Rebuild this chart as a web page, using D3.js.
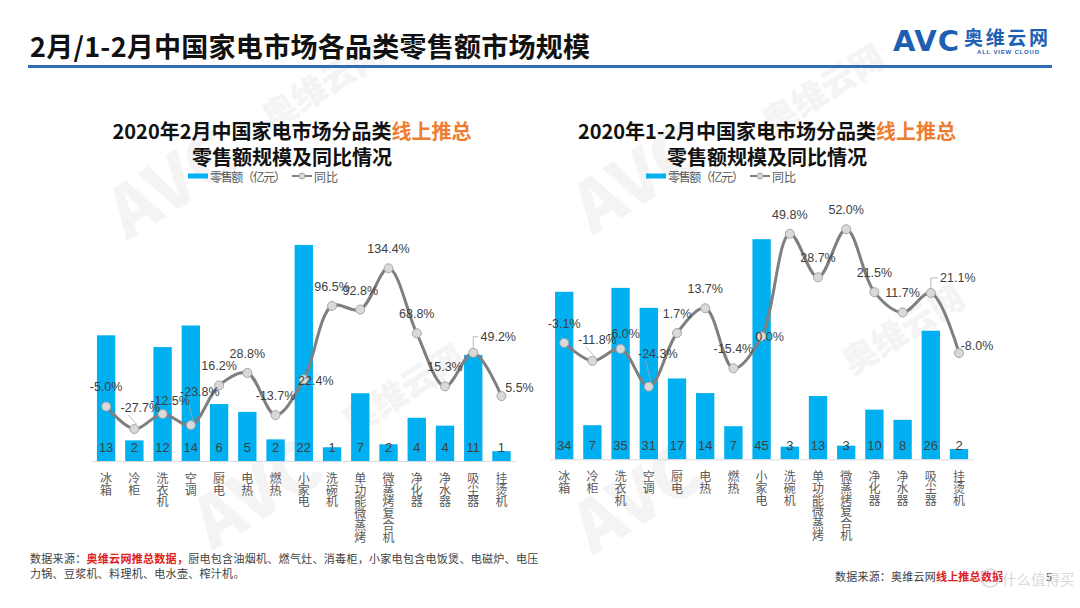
<!DOCTYPE html>
<html><head><meta charset="utf-8">
<script src="https://cdn.jsdelivr.net/npm/d3@7"></script>
<style>
body{margin:0;background:#fff;}
svg{display:block;font-family:"Noto Sans CJK SC","Microsoft YaHei",sans-serif;}
</style></head>
<body>
<svg id="c" width="1080" height="608"></svg>
<script>
// ---------- data ----------
const categories = ["冰箱","冷柜","洗衣机","空调","厨电","电热","燃热","小家电","洗碗机","单功能微蒸烤","微蒸烤复合机","净化器","净水器","吸尘器","挂烫机"];
const febSales   = [12.8, 2.1, 11.6, 13.8, 5.8, 5.0, 2.2, 22.0, 1.4, 6.9, 1.7, 4.4, 3.6, 10.8, 1.0];
const febYoY     = [-5.0, -27.7, -12.5, -23.8, 16.2, 28.8, -13.7, 22.4, 96.5, 92.8, 134.4, 68.8, 15.3, 49.2, 5.5];
const janFebSales = [34.4, 7.0, 35.2, 31.1, 16.6, 13.6, 6.8, 45.2, 2.6, 13.0, 2.8, 10.2, 8.1, 26.4, 2.1];
const janFebYoY   = [-3.1, -11.8, -6.0, -24.3, 1.7, 13.7, -15.4, 0.0, 49.8, 28.7, 52.0, 21.5, 11.7, 21.1, -8.0];
const legendLabels = ["零售额（亿元）", "同比"];

// ---------- layout / style (not data) ----------
const BLUE = "#00b0f0", LINE = "#7f7f7f", TXT = "#404040";
const svg = d3.select("#c");
const pct = v => (v < 0 ? "-" : "") + Math.abs(v).toFixed(1) + "%";

// faint background watermarks
const wm = [
  {x:330,y:95,t:"奥维云网",s:34},{x:185,y:205,t:"AVC",s:70},{x:410,y:400,t:"奥维云网",s:34},
  {x:830,y:100,t:"奥维云网",s:34},{x:650,y:200,t:"AVC",s:70},{x:910,y:340,t:"奥维云网",s:34},
  {x:270,y:515,t:"AVC",s:70},{x:650,y:520,t:"AVC",s:70}
];
svg.append("g").selectAll("text").data(wm).join("text")
  .attr("transform",d=>`translate(${d.x},${d.y}) rotate(-32)`)
  .attr("text-anchor","middle").attr("font-size",d=>d.s).attr("font-weight",900)
  .attr("fill","#f4f4f4").text(d=>d.t);

// header
svg.append("text").attr("x",30).attr("y",45).attr("dominant-baseline","central")
  .attr("font-size",27).attr("font-weight",700).attr("fill","#111").attr("textLength",560)
  .text("2月/1-2月中国家电市场各品类零售额市场规模");
svg.append("line").attr("x1",28).attr("x2",1052).attr("y1",66.5).attr("y2",66.5)
  .attr("stroke","#2e6eb5").attr("stroke-width",3);
svg.append("text").attr("x",893).attr("y",51).attr("font-family","DejaVu Sans, Liberation Sans")
  .attr("font-size",29).attr("font-weight",700).attr("fill","#1d5fb3").attr("textLength",66).text("AVC");
svg.append("text").attr("x",964).attr("y",36).attr("dominant-baseline","central")
  .attr("font-size",19).attr("font-weight",700).attr("fill","#1d5fb3").attr("textLength",84).text("奥维云网");
svg.append("text").attr("x",977).attr("y",52).attr("dominant-baseline","central")
  .attr("font-family","Liberation Sans, Arial").attr("font-size",6).attr("font-weight",700)
  .attr("fill","#1d5fb3").attr("textLength",62).text("ALL VIEW CLOUD");

function drawChart(cfg){
  const g = svg.append("g");
  // titles
  const t1 = g.append("text").attr("x",cfg.cx).attr("y",130).attr("text-anchor","middle")
    .attr("dominant-baseline","central").attr("font-size",20).attr("font-weight",700).attr("fill","#111");
  t1.append("tspan").text(cfg.title1a);
  t1.append("tspan").attr("fill","#ed7d31").text("线上推总");
  g.append("text").attr("x",cfg.cx).attr("y",156).attr("text-anchor","middle")
    .attr("dominant-baseline","central").attr("font-size",20).attr("font-weight",700).attr("fill","#111")
    .text("零售额规模及同比情况");
  // legend
  const lg = g.append("g").attr("transform",`translate(${cfg.legendX},176)`);
  lg.append("rect").attr("x",0).attr("y",-2.5).attr("width",20).attr("height",5).attr("fill",BLUE);
  lg.append("text").attr("x",22).attr("y",0).attr("dominant-baseline","central").attr("font-size",12)
    .attr("fill","#595959").attr("textLength",76).text(legendLabels[0]);
  lg.append("line").attr("x1",104).attr("x2",124).attr("y1",0).attr("y2",0).attr("stroke",LINE).attr("stroke-width",2);
  lg.append("circle").attr("cx",114).attr("cy",0).attr("r",3).attr("fill","#d9d9d9").attr("stroke","#a6a6a6");
  lg.append("text").attr("x",126).attr("y",0).attr("dominant-baseline","central").attr("font-size",12)
    .attr("fill","#595959").text(legendLabels[1]);

  const x = d3.scaleBand().domain(categories).range(cfg.xRange).paddingInner(0.35).paddingOuter(0.175);
  const y = d3.scaleLinear().domain(cfg.barDomain).range([cfg.base, cfg.top]);
  const y2 = d3.scaleLinear().domain(cfg.lineDomain).range([cfg.base, cfg.top]);

  // bars
  g.append("g").selectAll("rect").data(cfg.sales).join("rect")
    .attr("x",(d,i)=>x(categories[i])).attr("width",x.bandwidth())
    .attr("y",d=>y(d)).attr("height",d=>y(0)-y(d)).attr("fill",BLUE);

  // x axis
  const ax = g.append("g").attr("transform",`translate(0,${cfg.base})`)
    .call(d3.axisBottom(x).tickSize(0).tickPadding(0));
  ax.select(".domain").attr("stroke","#d9d9d9");
  ax.selectAll(".tick text").each(function(d){
    const t = d3.select(this).text(null).attr("y",0).attr("dy",null).attr("font-size",12)
      .attr("fill","#595959").attr("font-family","Noto Sans CJK SC").attr("dominant-baseline","central");
    [...d].forEach((ch,k)=>t.append("tspan").attr("x",0).attr("y",16 + k*11.7).text(ch));
  });

  // bar value labels
  g.append("g").selectAll("text").data(cfg.sales).join("text")
    .attr("x",(d,i)=>x(categories[i])+x.bandwidth()/2).attr("y",cfg.base-14)
    .attr("text-anchor","middle").attr("dominant-baseline","central")
    .attr("font-family","Liberation Sans, Arial").attr("font-size",13).attr("fill",TXT)
    .text(d=>d3.format(".0f")(d));

  // line
  const pts = cfg.yoy.map((v,i)=>[x(categories[i])+x.bandwidth()/2, y2(v)]);
  g.append("path").attr("d",d3.line().curve(d3.curveCatmullRom.alpha(0.5))(pts))
    .attr("fill","none").attr("stroke",LINE).attr("stroke-width",3);

  // leader lines
  cfg.leaders.forEach(i=>{
    const [px,py] = pts[i];
    const n = cfg.nudge[i] || [0,-19];
    const lx = px+n[0], ly = py+n[1];
    let d;
    if (n[0] > 20) d = `M${lx-20},${ly}H${px}V${py-5}`;
    else d = `M${lx-12},${ly+7}L${px+2},${py-5}`;
    g.append("path").attr("d",d).attr("fill","none").attr("stroke","#a6a6a6").attr("stroke-width",0.8);
  });

  g.append("g").selectAll("circle").data(pts).join("circle")
    .attr("cx",d=>d[0]).attr("cy",d=>d[1]).attr("r",4.5)
    .attr("fill","#d9d9d9").attr("stroke","#a6a6a6").attr("stroke-width",1);

  g.append("g").selectAll("text").data(cfg.yoy).join("text")
    .attr("x",(d,i)=>pts[i][0] + (cfg.nudge[i]||[0,-19])[0])
    .attr("y",(d,i)=>pts[i][1] + (cfg.nudge[i]||[0,-19])[1])
    .attr("text-anchor","middle").attr("dominant-baseline","central")
    .attr("font-family","Liberation Sans, Arial").attr("font-size",12.5).attr("fill",TXT)
    .text(d=>pct(d));
}

drawChart({
  cx:292, legendX:188, title1a:"2020年2月中国家电市场分品类",
  xRange:[92,515.6], base:461, top:215.5, barDomain:[0,25], lineDomain:[-60,187.7],
  sales:febSales, yoy:febYoY,
  nudge:{1:[6,-21],2:[7.5,-13],3:[9,-33],7:[12,2],13:[25,-16],14:[18,-8]},
  leaders:[1,3,13]
});
drawChart({
  cx:767, legendX:646, title1a:"2020年1-2月中国家电市场分品类",
  xRange:[550.1,973.1], base:459.3, top:215.8, barDomain:[0,50], lineDomain:[-59.5,58.5],
  sales:janFebSales, yoy:janFebYoY,
  nudge:{1:[5,-21],2:[3,-15],3:[9,-33],7:[8,0],13:[27,-15],14:[18,-7]},
  leaders:[1,3,13]
});

// footers
const f1 = svg.append("text").attr("x",30).attr("y",558).attr("dominant-baseline","central")
  .attr("font-size",11).attr("fill",TXT).attr("letter-spacing",0.3);
f1.append("tspan").text("数据来源：");
f1.append("tspan").attr("fill","#e0201c").attr("font-weight",700).text("奥维云网推总数据，");
f1.append("tspan").text("厨电包含油烟机、燃气灶、消毒柜，小家电包含电饭煲、电磁炉、电压");
svg.append("text").attr("x",30).attr("y",573).attr("dominant-baseline","central")
  .attr("font-size",11).attr("fill",TXT).attr("letter-spacing",0.3).text("力锅、豆浆机、料理机、电水壶、榨汁机。");
const f2 = svg.append("text").attr("x",835).attr("y",576).attr("dominant-baseline","central")
  .attr("font-size",11).attr("fill",TXT).attr("textLength",168);
f2.append("tspan").text("数据来源：奥维云网");
f2.append("tspan").attr("fill","#e0201c").attr("font-weight",700).text("线上推总数据");
svg.append("text").attr("x",1046).attr("y",576).attr("dominant-baseline","central")
  .attr("font-size",11).attr("fill",TXT).text("5");
svg.append("circle").attr("cx",990).attr("cy",578).attr("r",9).attr("fill","none")
  .attr("stroke","#d9d9d9").attr("stroke-width",1.5);
svg.append("text").attr("x",1002).attr("y",578).attr("dominant-baseline","central")
  .attr("font-size",14.5).attr("fill","#d4d4d4").attr("opacity",0.85).text("什么值得买");
</script>
</body></html>
